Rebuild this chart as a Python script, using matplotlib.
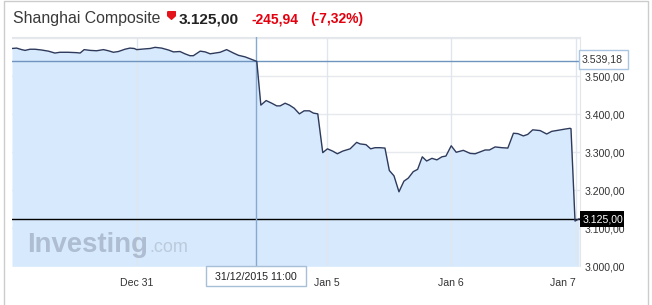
import matplotlib
matplotlib.use("Agg")
import matplotlib.pyplot as plt
import matplotlib.ticker as mticker
from matplotlib.patches import Rectangle
from matplotlib.path import Path

plt.rcParams["font.family"] = ["Liberation Sans", "DejaVu Sans"]

# Shanghai Composite, intraday, Dec 30 2015 - Jan 7 2016
# x = trading hours since the Dec 30 open (Jan 4 and Jan 7 were halted early)
hours = [0.0, 0.15, 0.31, 0.42, 0.58, 0.74, 0.95, 1.17, 1.38, 1.54, 1.81, 2.08,
         2.19, 2.32, 2.51, 2.72, 2.94, 3.10, 3.26, 3.42, 3.63, 3.79, 3.93,
         4.01, 4.28, 4.44, 4.60, 4.81, 5.03, 5.19, 5.40, 5.56, 5.72, 5.83, 6.05,
         6.21, 6.37, 6.53, 6.69, 6.90, 7.12, 7.28, 7.49, 7.65, 7.87,
         8.00, 8.17, 8.35, 8.51, 8.62, 8.78, 8.92, 9.07, 9.24, 9.39, 9.56, 9.69, 9.83,
         9.99, 10.14, 10.31, 10.46, 10.63, 10.87, 11.08, 11.19, 11.38, 11.53, 11.67,
         11.83, 11.99, 12.13, 12.28, 12.44, 12.60, 12.74, 12.90, 13.04, 13.19, 13.33,
         13.50, 13.66, 13.82, 13.95,
         14.12, 14.28, 14.51, 14.73, 14.89, 15.05, 15.21, 15.35, 15.53, 15.75, 15.94,
         16.12, 16.26, 16.44, 16.58, 16.74, 16.98, 17.19, 17.35, 17.57, 17.78, 17.94,
         17.97, 18.10, 18.23]
close = [3573, 3574, 3570, 3568, 3571, 3571, 3569, 3566, 3561, 3563, 3563, 3562,
         3561, 3570, 3568, 3567, 3570, 3567, 3563, 3565, 3571, 3574, 3573,
         3570, 3572, 3573, 3576, 3574, 3569, 3564, 3565, 3559, 3554, 3554, 3566,
         3564, 3559, 3561, 3563, 3570, 3561, 3555, 3551, 3546, 3539,
         3424, 3436, 3429, 3422, 3422, 3429, 3424, 3416, 3401, 3409, 3409, 3403, 3401,
         3299, 3309, 3303, 3296, 3303, 3309, 3326, 3322, 3320, 3309, 3312,
         3312, 3311, 3252, 3238, 3196, 3224, 3232, 3249, 3255, 3288, 3277,
         3284, 3280, 3288, 3290,
         3317, 3300, 3305, 3297, 3296, 3301, 3306, 3306, 3314, 3312, 3311,
         3350, 3349, 3343, 3347, 3359, 3357, 3348, 3355, 3358, 3361, 3363,
         3362, 3119, 3125]

ref_level = 3539.18
last_price = 3125.00
last_text = "3.125,00"
change_text = "-245,94"
pct_text = "(-7,32%)"
title = "Shanghai Composite"

day_ticks = [4.02, 10.13, 14.12, 18.13]
day_labels = ["Dec 31", "Jan 5", "Jan 6", "Jan 7"]
y_ticks = [3000, 3100, 3200, 3300, 3400, 3500]
cursor_hour = 7.85
cursor_label = "31/12/2015 11:00"

W, H = 652, 305


def fx(px):
    return px / W


def fy(py):
    return 1 - py / H


def euro(v):
    return f"{v:,.2f}".replace(",", " ").replace(".", ",").replace(" ", ".")


fig = plt.figure(figsize=(W / 100, H / 100), dpi=100)
ax = fig.add_axes([fx(12), fy(266.3), fx(580) - fx(12), fy(36.7) - fy(266.3)])

ax.fill_between(hours, close, 3000, color="#d7e9fc", lw=0, zorder=1)
ax.plot(hours, close, color="#2d3a5c", lw=1, zorder=4)
ax.axhline(ref_level, color="#6f95bf", lw=1, zorder=3)
ax.axhline(last_price, color="#000000", lw=1, zorder=3)
ax.axvline(cursor_hour, color="#86a9cf", lw=1, zorder=3)

ax.set_xlim(0, 18.26)
ax.set_ylim(3000, 3604)

ax.set_xticks(day_ticks)
ax.set_xticklabels(day_labels)
ax.get_xticklabels()[-1].set_ha("right")
ax.set_yticks(y_ticks)
ax.yaxis.set_major_formatter(mticker.FuncFormatter(lambda v, p: euro(v)))
ax.yaxis.tick_right()
ax.tick_params(axis="both", length=0, labelsize=7.6, colors="#333333")
ax.tick_params(axis="x", pad=8.5)
ax.tick_params(axis="y", pad=3.6)
for y in y_ticks[1:] + [3600]:
    ax.axhline(y, color="#e6e9ee", lw=1, zorder=0)
for x in day_ticks:
    ax.axvline(x, color="#e0e6ee", lw=1, zorder=2)
for s in ["left", "bottom"]:
    ax.spines[s].set_visible(False)
for s in ["top", "right"]:
    ax.spines[s].set_color("#e3e6ea")

# watermark
fig.text(fx(26.7), fy(252.3), "Investing", fontsize=19.8, fontweight="bold",
         color="#aebdd1", va="baseline", ha="left")
fig.text(fx(149), fy(252.3), ".com", fontsize=13, color="#bccadd",
         va="baseline", ha="left")

# header
fig.text(fx(12.7), fy(23), title, fontsize=11.4, color="#3a3a3a", va="baseline")
arrow = Path([(-1, 1), (1, 1), (1, -0.1), (0, -1), (-1, -0.1), (-1, 1)])
fig.lines.append(plt.Line2D([fx(170.5)], [fy(14.5)], marker=arrow, markersize=5.5,
                            color="#e3141b", lw=0, transform=fig.transFigure))
fig.text(fx(179), fy(23), last_text, fontsize=11.1, fontweight="bold",
         color="#222222", va="baseline")
fig.text(fx(252), fy(23), change_text, fontsize=10, fontweight="bold",
         color="#e3000f", va="baseline")
fig.text(fx(310), fy(23), pct_text, fontsize=10, fontweight="bold",
         color="#e3000f", va="baseline")

# price flags on the right
fig.patches.append(Rectangle((fx(579.3), fy(69)), fx(627.7) - fx(579.3), fy(50) - fy(69),
                             transform=fig.transFigure, facecolor="white",
                             edgecolor="#a9c5e2", lw=1))
fig.text(fx(582), fy(59.5), euro(ref_level), fontsize=7.6, color="#333333", va="center")
fig.patches.append(Rectangle((fx(580), fy(226.7)), fx(624.3) - fx(580), fy(211) - fy(226.7),
                             transform=fig.transFigure, facecolor="black",
                             edgecolor="black", lw=0))
fig.text(fx(582.5), fy(219), last_text, fontsize=7.6, color="white", va="center")

# cursor tooltip
fig.patches.append(Rectangle((fx(205.7), fy(286)), fx(306) - fx(205.7), fy(265.7) - fy(286),
                             transform=fig.transFigure, facecolor="white",
                             edgecolor="#a8bfd8", lw=1))
fig.text(fx(256), fy(277.5), cursor_label, fontsize=7.7, color="#222222",
         ha="center", va="center")

# outer frame
fig.lines.append(plt.Line2D([fx(3.5), fx(3.5), fx(648), fx(648)], [0, fy(0.5), fy(0.5), 0],
                            color="#cccccc", lw=1, transform=fig.transFigure))

fig.savefig("out.png", dpi=100)
plt.close(fig)
